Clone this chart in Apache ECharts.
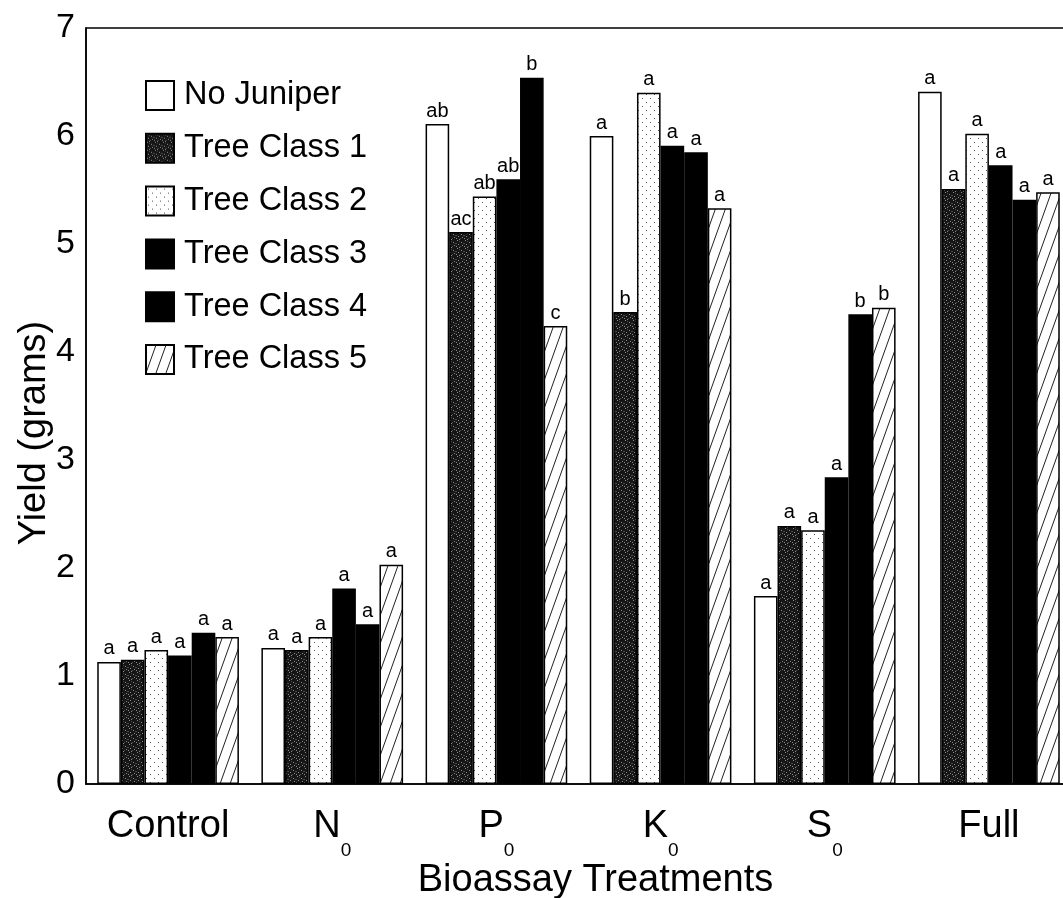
<!DOCTYPE html>
<html><head><meta charset="utf-8">
<script src="https://cdn.jsdelivr.net/npm/echarts@6/dist/echarts.min.js"></script>
<style>html,body{margin:0;padding:0;background:#fff}#c{width:1063px;height:898px}</style>
</head><body><div id="c"></div>
<script>
const categories = ['Control', 'N_0', 'P_0', 'K_0', 'S_0', 'Full'];
const seriesNames = ['No Juniper', 'Tree Class 1', 'Tree Class 2', 'Tree Class 3', 'Tree Class 4', 'Tree Class 5'];
const noJuniper = [1.13, 1.26, 6.11, 6.00, 1.74, 6.41];
const treeClass1 = [1.15, 1.24, 5.11, 4.37, 2.39, 5.51];
const treeClass2 = [1.24, 1.36, 5.44, 6.40, 2.35, 6.02];
const treeClass3 = [1.19, 1.81, 5.60, 5.91, 2.84, 5.73];
const treeClass4 = [1.40, 1.48, 6.54, 5.85, 4.35, 5.41];
const treeClass5 = [1.36, 2.03, 4.24, 5.33, 4.41, 5.48];
const lettersNoJuniper = ['a', 'a', 'ab', 'a', 'a', 'a'];
const lettersTC1 = ['a', 'a', 'ac', 'b', 'a', 'a'];
const lettersTC2 = ['a', 'a', 'ab', 'a', 'a', 'a'];
const lettersTC3 = ['a', 'a', 'ab', 'a', 'a', 'a'];
const lettersTC4 = ['a', 'a', 'b', 'a', 'b', 'a'];
const lettersTC5 = ['a', 'a', 'c', 'a', 'b', 'a'];
const yTicks = [0, 1, 2, 3, 4, 5, 6, 7];

const FONT = '"Liberation Sans", Arial, Helvetica, sans-serif';

function tile(w, h, draw) {
  const c = document.createElement('canvas');
  c.width = w; c.height = h;
  const g = c.getContext('2d');
  draw(g);
  return c;
}
const patWhite = '#ffffff';
const patSpeckle = {
  image: tile(8, 8, g => {
    g.fillStyle = '#161616'; g.fillRect(0, 0, 8, 8);
    g.fillStyle = '#8a8a8a';
    [[1, 0], [5, 2], [2, 4], [6, 5], [3, 7], [0, 6]].forEach(p => g.fillRect(p[0], p[1], 1, 1));
    g.fillStyle = '#4a4a4a';
    [[3, 1], [7, 3], [0, 3], [4, 6]].forEach(p => g.fillRect(p[0], p[1], 1, 1));
  }),
  repeat: 'repeat'
};
const patDots = {
  image: tile(8, 8, g => {
    g.fillStyle = '#ffffff'; g.fillRect(0, 0, 8, 8);
    g.fillStyle = '#555';
    g.fillRect(2, 2, 1, 1); g.fillRect(6, 6, 1, 1);
  }),
  repeat: 'repeat'
};
const patHatch = {
  image: tile(10, 28, g => {
    g.fillStyle = '#ffffff'; g.fillRect(0, 0, 10, 28);
    g.strokeStyle = '#222'; g.lineWidth = 1;
    [-10, 0, 10].forEach(dx => { g.beginPath(); g.moveTo(dx, 28); g.lineTo(dx + 10, 0); g.stroke(); });
  }),
  repeat: 'repeat'
};
const fills = [patWhite, patSpeckle, patDots, '#000', '#000', patHatch];
const values = [noJuniper, treeClass1, treeClass2, treeClass3, treeClass4, treeClass5];
const letters = [lettersNoJuniper, lettersTC1, lettersTC2, lettersTC3, lettersTC4, lettersTC5];

const chart = echarts.init(document.getElementById('c'), null, { renderer: 'canvas' });
chart.setOption({
  backgroundColor: '#fff',
  animation: false,
  textStyle: { fontFamily: FONT, color: '#000' },
  grid: {
    left: 86, top: 28, width: 985, height: 756,
    outerBoundsMode: 'none', containLabel: false,
    show: true, borderColor: '#000', borderWidth: 1.5, backgroundColor: 'transparent'
  },
  legend: {
    orient: 'vertical', left: 145, top: 79, padding: 0,
    itemWidth: 28, itemHeight: 29, itemGap: 19.8,
    icon: 'rect',
    textStyle: { fontSize: 32.5, fontFamily: FONT, color: '#000', padding: [0, 0, 0, 5] },
    data: seriesNames
  },
  xAxis: {
    type: 'category', data: categories,
    axisLine: { lineStyle: { color: '#000', width: 1.5 } },
    axisTick: { show: false },
    axisLabel: {
      margin: 24, color: '#000',
      formatter: v => {
        const p = v.split('_');
        return p.length > 1 ? '{m|' + p[0] + '}{s|' + p[1] + '}' : '{m|' + v + '}';
      },
      rich: {
        m: { fontSize: 38, fontFamily: FONT, lineHeight: 40, verticalAlign: 'top', color: '#000' },
        s: { fontSize: 19, fontFamily: FONT, lineHeight: 52, verticalAlign: 'bottom', color: '#000' }
      }
    },
    name: 'Bioassay Treatments', nameLocation: 'middle', nameGap: 78, nameMoveOverlap: false,
    nameTextStyle: { fontSize: 38, fontFamily: FONT, color: '#000', verticalAlign: 'top', padding: [0, 0, 0, 34] }
  },
  yAxis: {
    type: 'value', min: yTicks[0], max: yTicks[yTicks.length - 1], interval: 1,
    axisLine: { show: true, lineStyle: { color: '#000', width: 1.5 } },
    axisTick: { show: false },
    splitLine: { show: false },
    axisLabel: { fontSize: 34, fontFamily: FONT, color: '#000', margin: 11 },
    name: 'Yield (grams)', nameLocation: 'middle', nameGap: 32, nameMoveOverlap: false,
    nameTextStyle: { fontSize: 38, fontFamily: FONT, color: '#000', padding: [0, 54, 0, 0] }
  },
  series: seriesNames.map((n, i) => ({
    name: n, type: 'bar', data: values[i],
    barGap: '0%', barCategoryGap: '13.7%',
    itemStyle: { color: fills[i], borderColor: '#000', borderWidth: 1.5 },
    label: {
      show: true, position: 'top', distance: 3, fontSize: 20, fontFamily: FONT, color: '#000',
      formatter: p => letters[i][p.dataIndex]
    }
  }))
});
</script></body></html>
